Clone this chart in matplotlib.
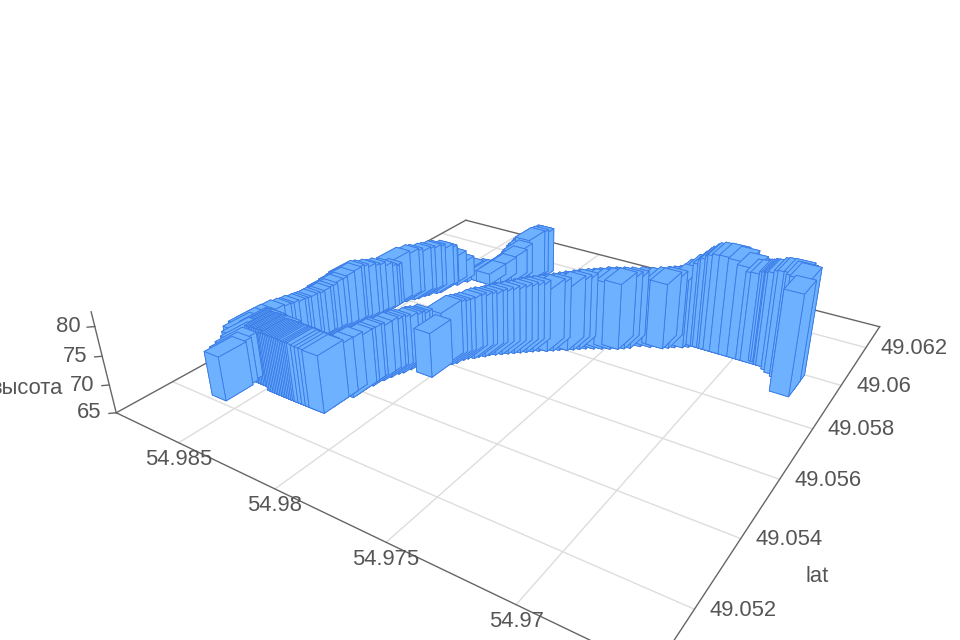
import numpy as np
import matplotlib
matplotlib.use("Agg")
import matplotlib.pyplot as plt

plt.rcParams["font.family"] = ["Liberation Sans", "DejaVu Sans"]

# road from box at 54.9822 back to the hump, longitude/latitude/height
front_lon = [54.9822, 54.9824, 54.9826, 54.9828, 54.9830, 54.9831, 54.9832, 54.9833, 54.9834, 54.9835, 54.9836, 54.9837, 54.9838, 54.9839, 54.9840, 54.9841, 54.9842, 54.9843, 54.9844, 54.9845, 54.9846, 54.9847, 54.9848, 54.9849, 54.9850, 54.9851, 54.9852, 54.9853, 54.9854, 54.9855, 54.9856, 54.9857, 54.9858, 54.9859, 54.9860]
front_lat = [49.0533, 49.0533, 49.0533, 49.0533, 49.0533, 49.0533, 49.0533, 49.0533, 49.0533, 49.0533, 49.0533, 49.0533, 49.0533, 49.0533, 49.0533, 49.0533, 49.0533, 49.0533, 49.0533, 49.0533, 49.0534, 49.0534, 49.0534, 49.0534, 49.0534, 49.0534, 49.0534, 49.0534, 49.0534, 49.0534, 49.0535, 49.0535, 49.0535, 49.0535, 49.0535]
front_z = [75.2, 75.3, 75.3, 75.3, 75.4, 75.4, 75.4, 75.4, 75.5, 75.5, 75.5, 75.5, 75.5, 75.5, 75.5, 75.5, 75.5, 75.5, 75.5, 75.4, 75.4, 75.4, 75.4, 75.3, 75.3, 75.3, 75.3, 75.2, 75.2, 75.2, 75.1, 75.1, 75.1, 75.0, 75.0]

# upper road, starts behind the end box at 54.9861
upper_lon = [54.9861, 54.9862, 54.9863, 54.9864, 54.9865, 54.9866, 54.9867, 54.9867, 54.9865, 54.9865, 54.9865, 54.9866, 54.9866, 54.9866, 54.9866, 54.9866, 54.9866, 54.9865, 54.9865, 54.9865, 54.9864, 54.9864, 54.9863, 54.9862, 54.9861, 54.9861, 54.9860, 54.9859, 54.9858, 54.9858, 54.9857, 54.9856, 54.9856, 54.9856, 54.9857, 54.9856, 54.9855, 54.9853, 54.9852, 54.9851, 54.9850, 54.9848, 54.9847, 54.9848, 54.9847, 54.9845, 54.9843]
upper_lat = [49.0525, 49.0527, 49.0529, 49.0531, 49.0532, 49.0533, 49.0535, 49.0537, 49.0539, 49.0541, 49.0542, 49.0544, 49.0546, 49.0547, 49.0548, 49.0550, 49.0551, 49.0552, 49.0554, 49.0555, 49.0556, 49.0558, 49.0559, 49.0561, 49.0563, 49.0564, 49.0565, 49.0567, 49.0568, 49.0570, 49.0572, 49.0573, 49.0574, 49.0575, 49.0579, 49.0582, 49.0583, 49.0585, 49.0586, 49.0588, 49.0589, 49.0591, 49.0592, 49.0593, 49.0596, 49.0598, 49.0601]
upper_z = [72.9, 72.9, 73.0, 73.2, 73.6, 74.1, 74.2, 74.2, 74.6, 74.3, 74.1, 73.8, 73.5, 73.4, 73.3, 73.2, 73.2, 73.2, 73.3, 73.4, 73.6, 73.9, 74.1, 74.6, 75.0, 75.2, 75.1, 74.8, 74.6, 74.3, 73.8, 73.3, 72.8, 73.0, 74.1, 73.9, 73.8, 73.7, 73.7, 73.6, 73.5, 73.2, 72.8, 72.0, 70.5, 69.0, 67.4]

# short back branch rising to the far corner
back_lon = [54.9838, 54.9835, 54.9832, 54.9831, 54.9829, 54.9828, 54.9827, 54.9825, 54.9824, 54.9823, 54.9822, 54.9821, 54.9820, 54.9819, 54.9818, 54.9817, 54.9816, 54.9815, 54.9814]
back_lat = [49.0603, 49.0603, 49.0603, 49.0604, 49.0605, 49.0605, 49.0606, 49.0607, 49.0607, 49.0608, 49.0608, 49.0609, 49.0609, 49.0610, 49.0610, 49.0610, 49.0611, 49.0612, 49.0612]
back_z = [67.0, 67.1, 67.2, 67.6, 68.2, 68.5, 69.0, 69.5, 70.0, 70.6, 71.2, 71.9, 72.4, 72.9, 73.4, 73.8, 73.9, 74.0, 74.0]

# lower road between the box at 54.9822 and the slit
lower_lon = [54.9822, 54.9822, 54.9820, 54.9820, 54.9820, 54.9820, 54.9819, 54.9819, 54.9818, 54.9818, 54.9817, 54.9816, 54.9816, 54.9815, 54.9815, 54.9814, 54.9814]
lower_lat = [49.0536, 49.0539, 49.0541, 49.0542, 49.0544, 49.0545, 49.0547, 49.0549, 49.0550, 49.0551, 49.0552, 49.0554, 49.0555, 49.0555, 49.0556, 49.0557, 49.0558]
lower_z = [74.7, 74.6, 74.7, 74.7, 74.6, 74.5, 74.3, 74.3, 74.2, 74.2, 74.1, 73.9, 73.8, 73.8, 73.7, 73.5, 73.5]

# main road to the right end
main_lon = [54.9803, 54.9804, 54.9803, 54.9802, 54.9801, 54.9800, 54.9799, 54.9798, 54.9797, 54.9796, 54.9795, 54.9794, 54.9793, 54.9792, 54.9791, 54.9790, 54.9789, 54.9788, 54.9787, 54.9786, 54.9785, 54.9784, 54.9783, 54.9782, 54.9781, 54.9780, 54.9779, 54.9778, 54.9777, 54.9776, 54.9775, 54.9774, 54.9773, 54.9772, 54.9771, 54.9770, 54.9769, 54.9768, 54.9767, 54.9766, 54.9765, 54.9764, 54.9763, 54.9761, 54.9759, 54.9758, 54.9757, 54.9756, 54.9755, 54.9754, 54.9753, 54.9752, 54.9751, 54.9750, 54.9749, 54.9748, 54.9747, 54.9745, 54.9742, 54.9738, 54.9735, 54.9733, 54.9732, 54.9731, 54.9730, 54.9729, 54.9728, 54.9726, 54.9724, 54.9721, 54.9718, 54.9716, 54.9715, 54.9713, 54.9712, 54.9710, 54.9707, 54.9703, 54.9699, 54.9695, 54.9693, 54.9692, 54.9691, 54.9690, 54.9689, 54.9688, 54.9687, 54.9686, 54.9683, 54.9681, 54.9678, 54.9676, 54.9674, 54.9674]
main_lat = [49.0557, 49.0562, 49.0563, 49.0564, 49.0565, 49.0567, 49.0568, 49.0569, 49.0569, 49.0570, 49.0571, 49.0571, 49.0572, 49.0573, 49.0573, 49.0574, 49.0574, 49.0575, 49.0575, 49.0576, 49.0576, 49.0577, 49.0577, 49.0578, 49.0578, 49.0579, 49.0579, 49.0580, 49.0580, 49.0581, 49.0581, 49.0581, 49.0582, 49.0582, 49.0583, 49.0583, 49.0584, 49.0584, 49.0584, 49.0585, 49.0585, 49.0586, 49.0586, 49.0587, 49.0588, 49.0588, 49.0589, 49.0589, 49.0589, 49.0590, 49.0590, 49.0590, 49.0591, 49.0591, 49.0591, 49.0592, 49.0592, 49.0593, 49.0595, 49.0596, 49.0597, 49.0597, 49.0598, 49.0598, 49.0599, 49.0599, 49.0600, 49.0600, 49.0601, 49.0602, 49.0602, 49.0602, 49.0602, 49.0602, 49.0602, 49.0602, 49.0602, 49.0602, 49.0602, 49.0602, 49.0602, 49.0603, 49.0603, 49.0603, 49.0603, 49.0603, 49.0602, 49.0602, 49.0601, 49.0600, 49.0599, 49.0597, 49.0596, 49.0593]
main_z = [73.1, 75.0, 75.0, 74.9, 75.0, 75.0, 75.1, 75.1, 75.1, 75.1, 75.2, 75.2, 75.3, 75.3, 75.4, 75.5, 75.6, 75.7, 75.7, 75.8, 75.9, 76.0, 76.0, 76.1, 76.1, 76.1, 76.2, 76.2, 76.3, 76.3, 76.4, 76.4, 76.5, 76.5, 76.6, 76.6, 76.7, 76.7, 76.8, 76.9, 76.9, 77.0, 77.1, 77.1, 77.1, 77.1, 77.1, 77.1, 77.2, 77.3, 77.3, 77.3, 77.3, 77.3, 77.3, 77.3, 77.3, 77.3, 77.1, 77.1, 77.2, 77.2, 77.3, 77.3, 77.3, 77.3, 77.3, 77.8, 78.6, 79.5, 80.4, 81.2, 81.6, 82.2, 82.5, 82.8, 82.9, 82.7, 82.0, 81.2, 81.3, 81.3, 81.3, 81.4, 81.5, 81.7, 81.9, 82.1, 82.9, 83.4, 83.8, 84.1, 84.3, 83.0]

lon_ticks = [54.985, 54.98, 54.975, 54.97]
lon_labels = ["54.985", "54.98", "54.975", "54.97"]
lat_ticks = [49.052, 49.054, 49.056, 49.058, 49.06, 49.062]
lat_labels = ["49.052", "49.054", "49.056", "49.058", "49.06", "49.062"]
z_ticks = [65, 70, 75, 80]

xhi, xlo, ylo, yhi, zlo, zhi = 54.98865, 54.96548, 49.05052, 49.06323, 65, 82.42
dlon, dlat = 0.0008, 0.00078

fig = plt.figure(figsize=(9.6, 6.4), dpi=100)
ax = fig.add_axes([0, 0, 1, 1], projection="3d", computed_zorder=False)
ax.set_axis_off()
ax.set_proj_type("persp", focal_length=0.2249)
ax.view_init(elev=28.55, azim=-57.24)
ax.set_box_aspect((1.3337, 1.3322, 0.2566))
ax.set_xlim(xhi, xlo)
ax.set_ylim(ylo, yhi)
ax.set_zlim(zlo, zhi)
M = ax.get_proj()

# place the square axes so the floor lands where it does in the picture
s, cx, cy = 4224.86, 526.90, 319.93
x0, y0, x1, y1 = ax.viewLim.extents
ax.set_position([(cx + s * x0) / 960, (cy + s * y0) / 640, s * (x1 - x0) / 960, s * (y1 - y0) / 640])

lon = np.r_[front_lon, upper_lon, back_lon, lower_lon, main_lon]
lat = np.r_[front_lat, upper_lat, back_lat, lower_lat, main_lat]
z = np.r_[front_z, upper_z, back_z, lower_z, main_z]

# far bars first, so the near ones cover them
depth = [(M @ np.array([a, b, zlo, 1.0]))[3] for a, b in zip(lon, lat)]
order = np.argsort(depth)[::-1]
for i, k in enumerate(order):
    ax.bar3d(lon[k] - dlon / 2, lat[k] - dlat / 2, zlo, dlon, dlat, z[k] - zlo,
             color="#6db1ff", edgecolor="#3a7be6", linewidth=0.6, shade=False, zorder=10 + i)

grid = "#dddddd"
axis_col = "#666666"
text_col = "#555555"
for t in lon_ticks:
    ax.plot([t, t], [ylo, yhi], [zlo, zlo], color=grid, lw=1, zorder=1, clip_on=False)
for t in lat_ticks:
    ax.plot([xlo, xhi], [t, t], [zlo, zlo], color=grid, lw=1, zorder=1, clip_on=False)
edges = [((xhi, ylo, zlo), (xlo, ylo, zlo)), ((xlo, ylo, zlo), (xlo, yhi, zlo)),
         ((xlo, yhi, zlo), (xhi, yhi, zlo)), ((xhi, yhi, zlo), (xhi, ylo, zlo)),
         ((xhi, ylo, zlo), (xhi, ylo, zhi))]
for a, b in edges:
    ax.plot(*zip(a, b), color=axis_col, lw=1, zorder=2, clip_on=False)


def label(x, y, zv, text, dx, dy, ha):
    h = M @ np.array([x, y, zv, 1.0])
    ax.annotate(text, (h[0] / h[3], h[1] / h[3]), xytext=(dx, dy), textcoords="offset pixels",
                color=text_col, fontsize=15.8, ha=ha, va="center", annotation_clip=False)


for t, l in zip(lon_ticks, lon_labels):
    label(t, ylo, zlo, l, 0, -17, "center")
for t, l in zip(lat_ticks, lat_labels):
    label(xlo, t, zlo, l, 15, -1, "left")
for t in z_ticks:
    label(xhi, ylo, t, str(t), -27, 0, "center")
    ax.plot([xhi, xhi + 0.0002], [ylo, ylo - 0.0001], [t, t], color=axis_col, lw=1, zorder=2, clip_on=False)

fig.text(63 / 960, 1 - 389 / 640, "высота", color=text_col, fontsize=15.8, ha="right", va="center")
fig.text(817 / 960, 1 - 576 / 640, "lat", color=text_col, fontsize=15.8, ha="center", va="center")

fig.savefig("out.png", dpi=100)
